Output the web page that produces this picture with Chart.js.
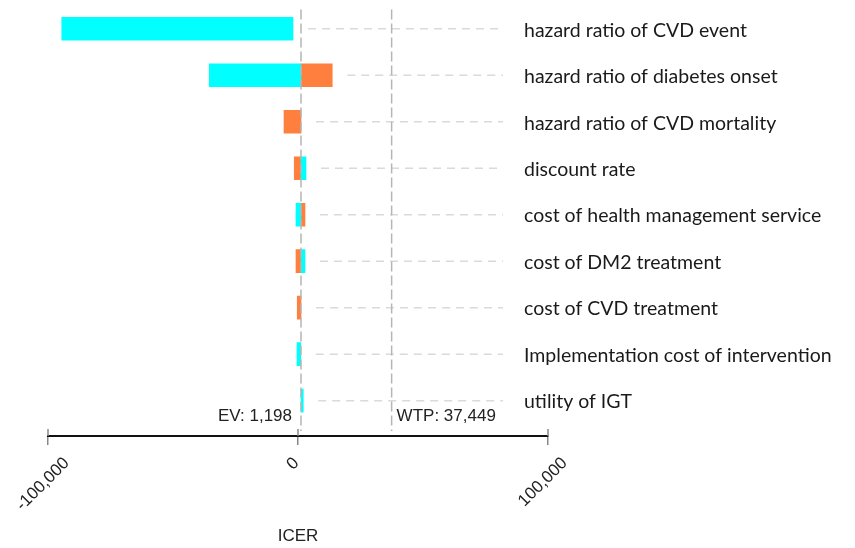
<!DOCTYPE html>
<html>
<head>
<meta charset="utf-8">
<script src="https://cdn.jsdelivr.net/npm/chart.js@4.4.0/dist/chart.umd.min.js"></script>
<style>
  html, body { margin: 0; padding: 0; background: #fff; }
</style>
</head>
<body>
<canvas id="tornado" width="855" height="548"></canvas>
<script>
const categories = [
  'hazard ratio of CVD event',
  'hazard ratio of diabetes onset',
  'hazard ratio of CVD mortality',
  'discount rate',
  'cost of health management service',
  'cost of DM2 treatment',
  'cost of CVD treatment',
  'Implementation cost of intervention',
  'utility of IGT'
];
// ICER range for each input (cyan / orange bars), null = no bar
const cyanRange = [[-94500, -2000], [-35500, 1198], null, [1198, 3200], [-800, 1198], [1198, 2800], null, [-400, 1100], [1198, 2100]];
const orangeRange = [null, [1198, 13700], [-5600, 1198], [-1500, 1198], [1198, 2800], [-800, 1198], [-300, 1198], null, null];
const xTicks = [-100000, 0, 100000];
const evValue = 1198;
const wtpValue = 37449;

const txtFont = '17px "Liberation Sans", Arial, sans-serif';
const toBars = ranges => ranges.map((r, i) => r ? {x: r, y: i} : null).filter(Boolean);

const refLines = {
  id: 'refLines',
  afterDatasetsDraw(chart) {
    const {ctx, chartArea, scales: {x, y}} = chart;
    ctx.save();
    // dashed guides from each row out to the labels
    ctx.setLineDash([8, 6]);
    ctx.strokeStyle = '#dadada';
    ctx.lineWidth = 1.5;
    categories.forEach((c, i) => {
      const ends = [cyanRange[i], orangeRange[i]].filter(Boolean).map(r => Math.max(r[0], r[1]));
      const from = x.getPixelForValue(Math.max(...ends)) + 15;
      const yy = y.getPixelForValue(i);
      ctx.beginPath();
      ctx.moveTo(from, yy);
      ctx.lineTo(x.getPixelForValue(82000), yy);
      ctx.stroke();
    });
    // EV and WTP lines
    ctx.setLineDash([10, 4]);
    ctx.strokeStyle = '#b5b5b5';
    [evValue, wtpValue].forEach(v => {
      const px = x.getPixelForValue(v);
      ctx.beginPath();
      ctx.moveTo(px, chartArea.top + 4);
      ctx.lineTo(px, chartArea.bottom - 5);
      ctx.stroke();
    });
    ctx.setLineDash([]);
    ctx.font = txtFont;
    ctx.fillStyle = '#222';
    ctx.textBaseline = 'alphabetic';
    ctx.textAlign = 'right';
    ctx.fillText('EV: ' + evValue.toLocaleString('en-US'), x.getPixelForValue(evValue) - 9, 421);
    ctx.textAlign = 'left';
    ctx.fillText('WTP: ' + wtpValue.toLocaleString('en-US'), x.getPixelForValue(wtpValue) + 5, 421);

    // axis ticks: upper part and rotated labels
    const axisY = chartArea.bottom;
    ctx.strokeStyle = '#888';
    ctx.lineWidth = 1.5;
    x.ticks.forEach(t => {
      const px = x.getPixelForValue(t.value);
      ctx.beginPath();
      ctx.moveTo(px, axisY - 7);
      ctx.lineTo(px, axisY);
      ctx.stroke();
      const label = t.value.toLocaleString('en-US');
      const w = ctx.measureText(label).width;
      ctx.save();
      ctx.translate(px - 5, axisY + 21 + (w + 10) * 0.3536);
      ctx.rotate(-Math.PI / 4);
      ctx.textAlign = 'center';
      ctx.textBaseline = 'middle';
      ctx.fillText(label, 0, 0);
      ctx.restore();
    });
    ctx.restore();
  }
};

new Chart(document.getElementById('tornado'), {
  type: 'bar',
  data: {
    datasets: [
      {label: 'low', data: toBars(cyanRange), backgroundColor: '#00FFFF', barThickness: 23, grouped: false},
      {label: 'high', data: toBars(orangeRange), backgroundColor: '#FF7F3F', barThickness: 23, grouped: false}
    ]
  },
  options: {
    indexAxis: 'y',
    responsive: false,
    animation: false,
    devicePixelRatio: 1,
    layout: {padding: {left: 0, top: 5.5, right: 307, bottom: 0}},
    plugins: {legend: {display: false}, tooltip: {enabled: false}},
    scales: {
      x: {
        type: 'linear',
        min: -100000,
        max: 100000,
        afterBuildTicks: s => { s.ticks = xTicks.map(v => ({value: v})); },
        afterFit: s => { s.height = 112; },
        grid: {drawOnChartArea: false, drawTicks: true, tickLength: 9, color: '#888', lineWidth: 1.5},
        border: {display: true, color: '#111', width: 2},
        ticks: {display: false},
        title: {display: true, text: 'ICER', color: '#222', font: {family: '"Liberation Sans", Arial, sans-serif', size: 17}, padding: {top: 0, bottom: 1}}
      },
      y: {
        type: 'linear',
        position: 'left',
        offset: false,
        reverse: true,
        min: -0.5,
        max: 8.76,
        afterBuildTicks: s => { s.ticks = categories.map((c, i) => ({value: i})); },
        afterFit: s => { s.width = 48; s.paddingTop = 0; s.paddingBottom = 0; },
        grid: {display: false, drawTicks: false, tickLength: 0, offset: false},
        border: {display: false},
        ticks: {
          autoSkip: false,
          mirror: true,
          crossAlign: 'near',
          padding: 476,
          labelOffset: 1.5,
          color: '#1a1a1a',
          font: {family: 'Lato', size: 19.5},
          callback: v => categories[v]
        }
      }
    }
  },
  plugins: [refLines]
});
</script>
</body>
</html>
